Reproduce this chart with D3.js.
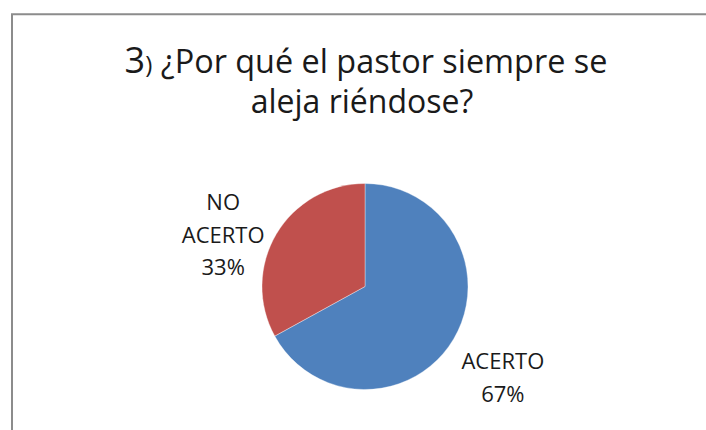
<!DOCTYPE html>
<html>
<head>
<meta charset="utf-8">
<script src="https://cdn.jsdelivr.net/npm/d3@7/dist/d3.min.js"></script>
<style>
  html, body { margin: 0; padding: 0; background: #fff; }
  svg { display: block; }
  text { font-family: "Open Sans", "DejaVu Sans", sans-serif; fill: #1a1a1a; }
</style>
</head>
<body>
<svg id="chart" width="706" height="430"></svg>
<script>
// Data
const categories = ["ACERTO", "NO ACERTO"];
const values = [67, 33];
const colors = ["#4F81BD", "#C0504D"];
const titleNumber = "3";
const titleLine1 = "¿Por qué el pastor siempre se";
const titleLine2 = "aleja riéndose?";

const W = 706, H = 430;
const svg = d3.select("#chart");

// Chart frame (only top and left edges visible)
svg.append("path")
  .attr("d", `M12,${H} L12,14.3 L${W},14.3`)
  .attr("fill", "none")
  .attr("stroke", "#8c8c8c")
  .attr("stroke-width", 2);

// Title
const t1 = svg.append("text")
  .attr("x", 366).attr("y", 73)
  .attr("text-anchor", "middle");
t1.append("tspan").attr("font-size", 36).text(titleNumber);
t1.append("tspan").attr("font-size", 24).text(")");
t1.append("tspan").attr("font-size", 32.4).text(" " + titleLine1);

svg.append("text")
  .attr("x", 362).attr("y", 113)
  .attr("text-anchor", "middle")
  .attr("font-size", 32)
  .text(titleLine2);

// Pie
const cx = 365, cy = 286.5, r = 103;
const pie = d3.pie().sort(null).value(d => d.value);
const data = categories.map((c, i) => ({ name: c, value: values[i], color: colors[i] }));
const arcs = pie(data);
const arc = d3.arc().innerRadius(0).outerRadius(r);

const g = svg.append("g").attr("transform", `translate(${cx},${cy})`);
g.selectAll("path.slice")
  .data(arcs)
  .enter().append("path")
  .attr("class", "slice")
  .attr("d", arc)
  .attr("fill", d => d.data.color)
  .attr("stroke", "#ffffff")
  .attr("stroke-width", 0.6)
  .attr("stroke-opacity", 0.6);

// Labels (best-fit outside placement)
const labelArc = d3.arc().innerRadius(r * 1.6).outerRadius(r * 1.6);
const labelShift = [[-4, 7], [0, 32]];
const lineH = 32.5;
arcs.forEach((a, i) => {
  const [lx, ly] = labelArc.centroid(a);
  const x = lx + labelShift[i][0], y = ly + labelShift[i][1];
  const words = a.data.name.split(" ");
  const lines = words.concat([Math.round(a.data.value) + "%"]);
  const txt = g.append("text")
    .attr("text-anchor", "middle")
    .attr("font-size", 22);
  const n = lines.length;
  lines.forEach((ln, k) => {
    txt.append("tspan")
      .attr("x", x)
      .attr("y", y + (k - (n - 1) / 2) * lineH + 8)
      .text(ln);
  });
});
</script>
</body>
</html>
